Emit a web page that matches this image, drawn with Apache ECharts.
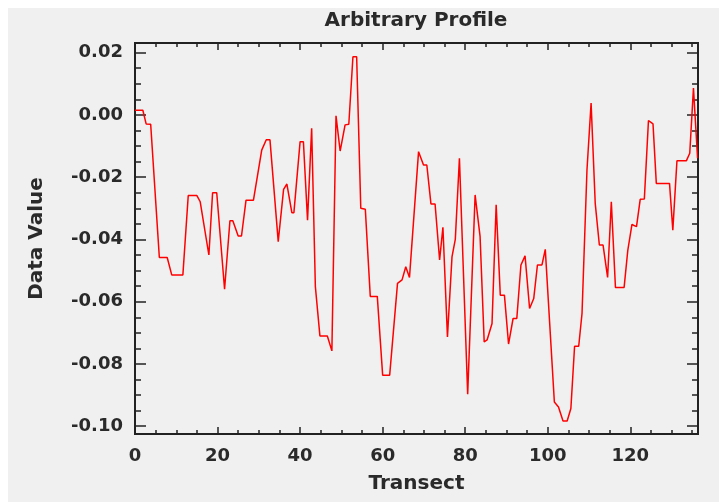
<!DOCTYPE html>
<html>
<head>
<meta charset="utf-8">
<script src="https://cdn.jsdelivr.net/npm/echarts@6/dist/echarts.min.js"></script>
<style>
html,body{margin:0;padding:0;background:#ffffff;}
#chart{width:719px;height:502px;}
</style>
</head>
<body>
<div id="chart"></div>
<script>
// Transect positions (x) and profile values (y)
var transectX = [0,1.9,2.7,3.8,5.9,7.8,8.9,11.6,12.9,15.0,15.8,17.9,18.8,19.8,21.7,23.0,23.7,25.0,25.8,26.9,28.7,30.7,31.8,32.7,34.7,36.0,36.8,38.0,38.5,40.0,40.8,41.8,42.8,43.7,44.8,46.6,47.7,48.7,49.7,50.9,51.8,52.8,53.7,54.7,55.8,57.0,58.7,60.0,61.7,63.6,64.7,65.6,66.5,68.7,69.9,70.7,71.7,72.7,73.8,74.6,75.7,76.8,77.6,78.6,80.6,82.4,83.6,84.6,85.3,86.5,87.5,88.5,89.5,90.5,91.6,92.5,93.5,94.5,95.6,96.6,97.5,98.6,99.4,101.6,102.6,103.7,104.7,105.6,106.5,107.5,108.3,109.5,110.5,111.5,112.5,113.4,114.5,115.4,116.4,118.5,119.4,120.4,121.5,122.4,123.4,124.4,125.5,126.3,129.5,130.3,131.3,133.6,134.4,135.3,136.3];
var dataValue = [0.0015,0.0015,-0.0029,-0.003,-0.0458,-0.0458,-0.0514,-0.0514,-0.0259,-0.0259,-0.0279,-0.045,-0.025,-0.025,-0.056,-0.034,-0.034,-0.0389,-0.0389,-0.0274,-0.0274,-0.0113,-0.008,-0.008,-0.0407,-0.0239,-0.0222,-0.0314,-0.0314,-0.0086,-0.0086,-0.0338,-0.0043,-0.0552,-0.071,-0.071,-0.0758,-0.0003,-0.0116,-0.0032,-0.003,0.0187,0.0187,-0.030,-0.0303,-0.0583,-0.0583,-0.0836,-0.0836,-0.0541,-0.053,-0.0488,-0.0522,-0.0118,-0.0161,-0.0161,-0.0286,-0.0286,-0.0466,-0.0361,-0.0713,-0.0456,-0.040,-0.0139,-0.0897,-0.0257,-0.039,-0.0729,-0.0723,-0.067,-0.0289,-0.0579,-0.0579,-0.0736,-0.0654,-0.0654,-0.0482,-0.0453,-0.0622,-0.059,-0.0482,-0.0482,-0.0432,-0.0922,-0.0938,-0.0983,-0.0983,-0.0943,-0.0743,-0.0743,-0.0638,-0.0177,0.0038,-0.0284,-0.0418,-0.0418,-0.0522,-0.0279,-0.0554,-0.0554,-0.0434,-0.0352,-0.0359,-0.0271,-0.027,-0.0018,-0.0029,-0.022,-0.022,-0.037,-0.0147,-0.0147,-0.0123,0.0086,-0.0139];
// Tick values
var xMajorTicks = [0,20,40,60,80,100,120];
var xMinorTicks = [5,10,15,25,30,35,45,50,55,65,70,75,85,90,95,105,110,115,125,130,135];
var yMajorTicks = [-0.10,-0.08,-0.06,-0.04,-0.02,0.00,0.02];
var yMinorTicks = [-0.095,-0.09,-0.085,-0.075,-0.07,-0.065,-0.055,-0.05,-0.045,-0.035,-0.03,-0.025,-0.015,-0.01,-0.005,0.005,0.01,0.015];

var X_MIN = 0, X_MAX = 136.4, Y_MIN = -0.1025, Y_MAX = 0.0231;
var FONT = 'DejaVu Sans';
var TXT = '#2a2a2a';
var AX = '#222222';

var seriesData = transectX.map(function(x, i){ return [x, dataValue[i]]; });

function xAx(pos, ticks, len, labels){
  return {
    type:'value', min:X_MIN, max:X_MAX, position:pos,
    axisLine:{show:false, onZero:false},
    splitLine:{show:false},
    axisTick:{show:true, inside:true, length:len, customValues:ticks, lineStyle:{color:AX, width:1.5}},
    axisLabel: labels ? {show:true, customValues:ticks, color:TXT, fontFamily:FONT, fontSize:18, fontWeight:'bold', margin:13} : {show:false},
    name: labels ? 'Transect' : '',
    nameLocation:'middle', nameGap:40,
    nameTextStyle:{color:TXT, fontFamily:FONT, fontSize:20, fontWeight:'bold'}
  };
}
function yAx(pos, ticks, len, labels){
  return {
    type:'value', min:Y_MIN, max:Y_MAX, position:pos,
    axisLine:{show:false, onZero:false},
    splitLine:{show:false},
    axisTick:{show:true, inside:true, length:len, customValues:ticks, lineStyle:{color:AX, width:1.5}},
    axisLabel: labels ? {show:true, customValues:ticks, color:TXT, fontFamily:FONT, fontSize:18, fontWeight:'bold', margin:12,
      formatter:function(v){ return (Math.abs(v)<1e-9?0:v).toFixed(2); }} : {show:false},
    name: labels ? 'Data Value' : '',
    nameLocation:'middle', nameGap:88,
    nameTextStyle:{color:TXT, fontFamily:FONT, fontSize:20, fontWeight:'bold'}
  };
}

var chart = echarts.init(document.getElementById('chart'), null, {renderer:'canvas'});
chart.setOption({
  animation:false,
  backgroundColor:'#ffffff',
  graphic:[{type:'rect', z:-10, shape:{x:8,y:8,width:711,height:494}, style:{fill:'#f0f0f0'}}],
  title:{text:'Arbitrary Profile', left:411, top:6, textAlign:'center',
    textStyle:{color:TXT, fontFamily:FONT, fontSize:20, fontWeight:'bold'}},
  grid:{left:135, right:21, top:43, bottom:68, show:true, borderColor:AX, borderWidth:2, backgroundColor:'#f0f0f0'},
  xAxis:[
    xAx('bottom', xMajorTicks, 7, true),
    xAx('bottom', xMinorTicks, 4, false),
    xAx('top', xMajorTicks, 7, false),
    xAx('top', xMinorTicks, 4, false)
  ],
  yAxis:[
    yAx('left', yMajorTicks, 11, true),
    yAx('left', yMinorTicks, 6, false),
    yAx('right', yMajorTicks, 11, false),
    yAx('right', yMinorTicks, 6, false)
  ],
  series:[{
    type:'line', xAxisIndex:0, yAxisIndex:0,
    data:seriesData, showSymbol:false, symbol:'none',
    lineStyle:{color:'#ff0000', width:1.5},
    clip:true
  }]
});
</script>
</body>
</html>
